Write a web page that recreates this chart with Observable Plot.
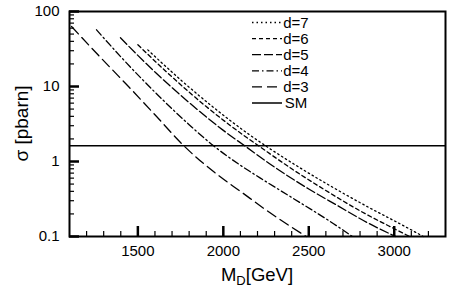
<!DOCTYPE html>
<html>
<head>
<meta charset="utf-8">
<script src="https://cdn.jsdelivr.net/npm/d3@7"></script>
<script src="https://cdn.jsdelivr.net/npm/@observablehq/plot@0.6"></script>
<style>
  html, body { margin: 0; padding: 0; background: #fff; }
  #chart { position: relative; width: 463px; height: 301px; }
</style>
</head>
<body>
<div id="chart"></div>
<script>
// ---- data ----
const mD3 = [1112, 1250, 1445, 1600, 1769, 1984, 2100, 2257, 2485];
const sig3 = [63, 29, 10, 4.2, 1.62, 0.62, 0.40, 0.22, 0.10];

const mD4 = [1258, 1400, 1600, 1800, 1943, 2100, 2217, 2411, 2645, 2755];
const sig4 = [57, 24.9, 8.4, 3.1, 1.62, 0.89, 0.60, 0.32, 0.148, 0.10];

const mD5 = [1398, 1600, 1800, 2000, 2125, 2300, 2500, 2666, 2850, 3008];
const sig5 = [44.6, 15.6, 6.1, 2.6, 1.62, 0.84, 0.43, 0.26, 0.15, 0.10];

const mD6 = [1500, 1700, 1900, 2100, 2206, 2400, 2600, 2800, 3000, 3090];
const sig6 = [36, 13.4, 5.4, 2.4, 1.62, 0.80, 0.41, 0.22, 0.127, 0.10];

const mD7 = [1558, 1750, 1950, 2150, 2247, 2450, 2650, 2850, 3050, 3170];
const sig7 = [30.8, 12.3, 5.1, 2.3, 1.62, 0.82, 0.44, 0.245, 0.141, 0.10];

const smValue = 1.62;

const seriesLabels = ["d=7", "d=6", "d=5", "d=4", "d=3", "SM"];
const xMajor = [1500, 2000, 2500, 3000];
const xMinor = [1200, 1300, 1400, 1600, 1700, 1800, 1900, 2100, 2200, 2300, 2400, 2600, 2700, 2800, 2900, 3100, 3200];
const yMajor = [0.1, 1, 10, 100];
const yMinor = [0.2,0.3,0.4,0.5,0.6,0.7,0.8,0.9, 2,3,4,5,6,7,8,9, 20,30,40,50,60,70,80,90];

// ---- styles ----
const dashes = {
  "d=7": "1.5,3",
  "d=6": "4,3",
  "d=5": "9,3",
  "d=4": "7,3,1.5,3",
  "d=3": "10,5",
  "SM": null
};

function rows(ms, ss, key) { return ms.map((m, i) => ({m, s: ss[i], key})); }
const series = [
  rows(mD7, sig7, "d=7"),
  rows(mD6, sig6, "d=6"),
  rows(mD5, sig5, "d=5"),
  rows(mD4, sig4, "d=4"),
  rows(mD3, sig3, "d=3")
];

const W = 463, H = 301;
const mL = 69, mR = 18, mT = 11, mB = 65;
const fw = W - mL - mR, fh = H - mT - mB;

const chart = Plot.plot({
  width: W, height: H,
  marginLeft: mL, marginRight: mR, marginTop: mT, marginBottom: mB,
  style: {fontFamily: "'Liberation Sans', Arial, Helvetica, sans-serif", fontSize: "15px", color: "#000", background: "#fff"},
  x: {type: "linear", domain: [1100, 3300]},
  y: {type: "log", domain: [0.1, 100]},
  marks: [
    ...series.map(d => Plot.line(d, {x: "m", y: "s", curve: "monotone-x", stroke: "#000", strokeWidth: 1.3, strokeDasharray: dashes[d[0].key]})),
    Plot.ruleY([smValue], {stroke: "#000", strokeWidth: 1.5}),
    Plot.ruleX(xMinor, {stroke: "#000", strokeWidth: 1.2, insetTop: fh - 5}),
    Plot.ruleX(xMajor, {stroke: "#000", strokeWidth: 2.5, insetTop: fh - 10}),
    Plot.ruleY(yMinor, {stroke: "#000", strokeWidth: 1.2, insetRight: fw - 5}),
    Plot.ruleY(yMajor, {stroke: "#000", strokeWidth: 2.5, insetRight: fw - 10}),
    Plot.frame({stroke: "#000", strokeWidth: 2}),
    Plot.axisX({ticks: xMajor, tickSize: 0, tickPadding: 9, label: null, tickFormat: d => String(d)}),
    Plot.axisY({ticks: yMajor, tickSize: 0, tickPadding: 10, label: null, tickFormat: d => String(d)})
  ]
});

document.getElementById("chart").appendChild(chart);

// axis titles and legend
const svg = d3.select(chart);
const ff = "'Liberation Sans', Arial, Helvetica, sans-serif";

svg.append("text")
  .attr("transform", `translate(28,${mT + fh / 2}) rotate(-90)`)
  .attr("text-anchor", "middle")
  .attr("font-family", ff).attr("font-size", 19).attr("fill", "#000")
  .text("σ [pbarn]");

const xt = svg.append("text")
  .attr("x", mL + fw / 2).attr("y", 281)
  .attr("text-anchor", "middle")
  .attr("font-family", ff).attr("font-size", 18.5).attr("fill", "#000");
xt.append("tspan").text("M");
xt.append("tspan").attr("font-size", 13).attr("dy", 4).text("D");
xt.append("tspan").attr("dy", -4).text("[GeV]");

const lg = svg.append("g");
seriesLabels.forEach((lab, i) => {
  const y = 22.5 + i * 16.1;
  const ln = lg.append("line")
    .attr("x1", 252).attr("x2", 282).attr("y1", y).attr("y2", y)
    .attr("stroke", "#000").attr("stroke-width", lab === "SM" ? 1.5 : 1.3);
  if (dashes[lab]) ln.attr("stroke-dasharray", dashes[lab]);
  lg.append("text")
    .attr("x", 296).attr("y", y).attr("dy", "0.35em")
    .attr("font-family", ff).attr("font-size", 15).attr("fill", "#000")
    .text(lab);
});
</script>
</body>
</html>
